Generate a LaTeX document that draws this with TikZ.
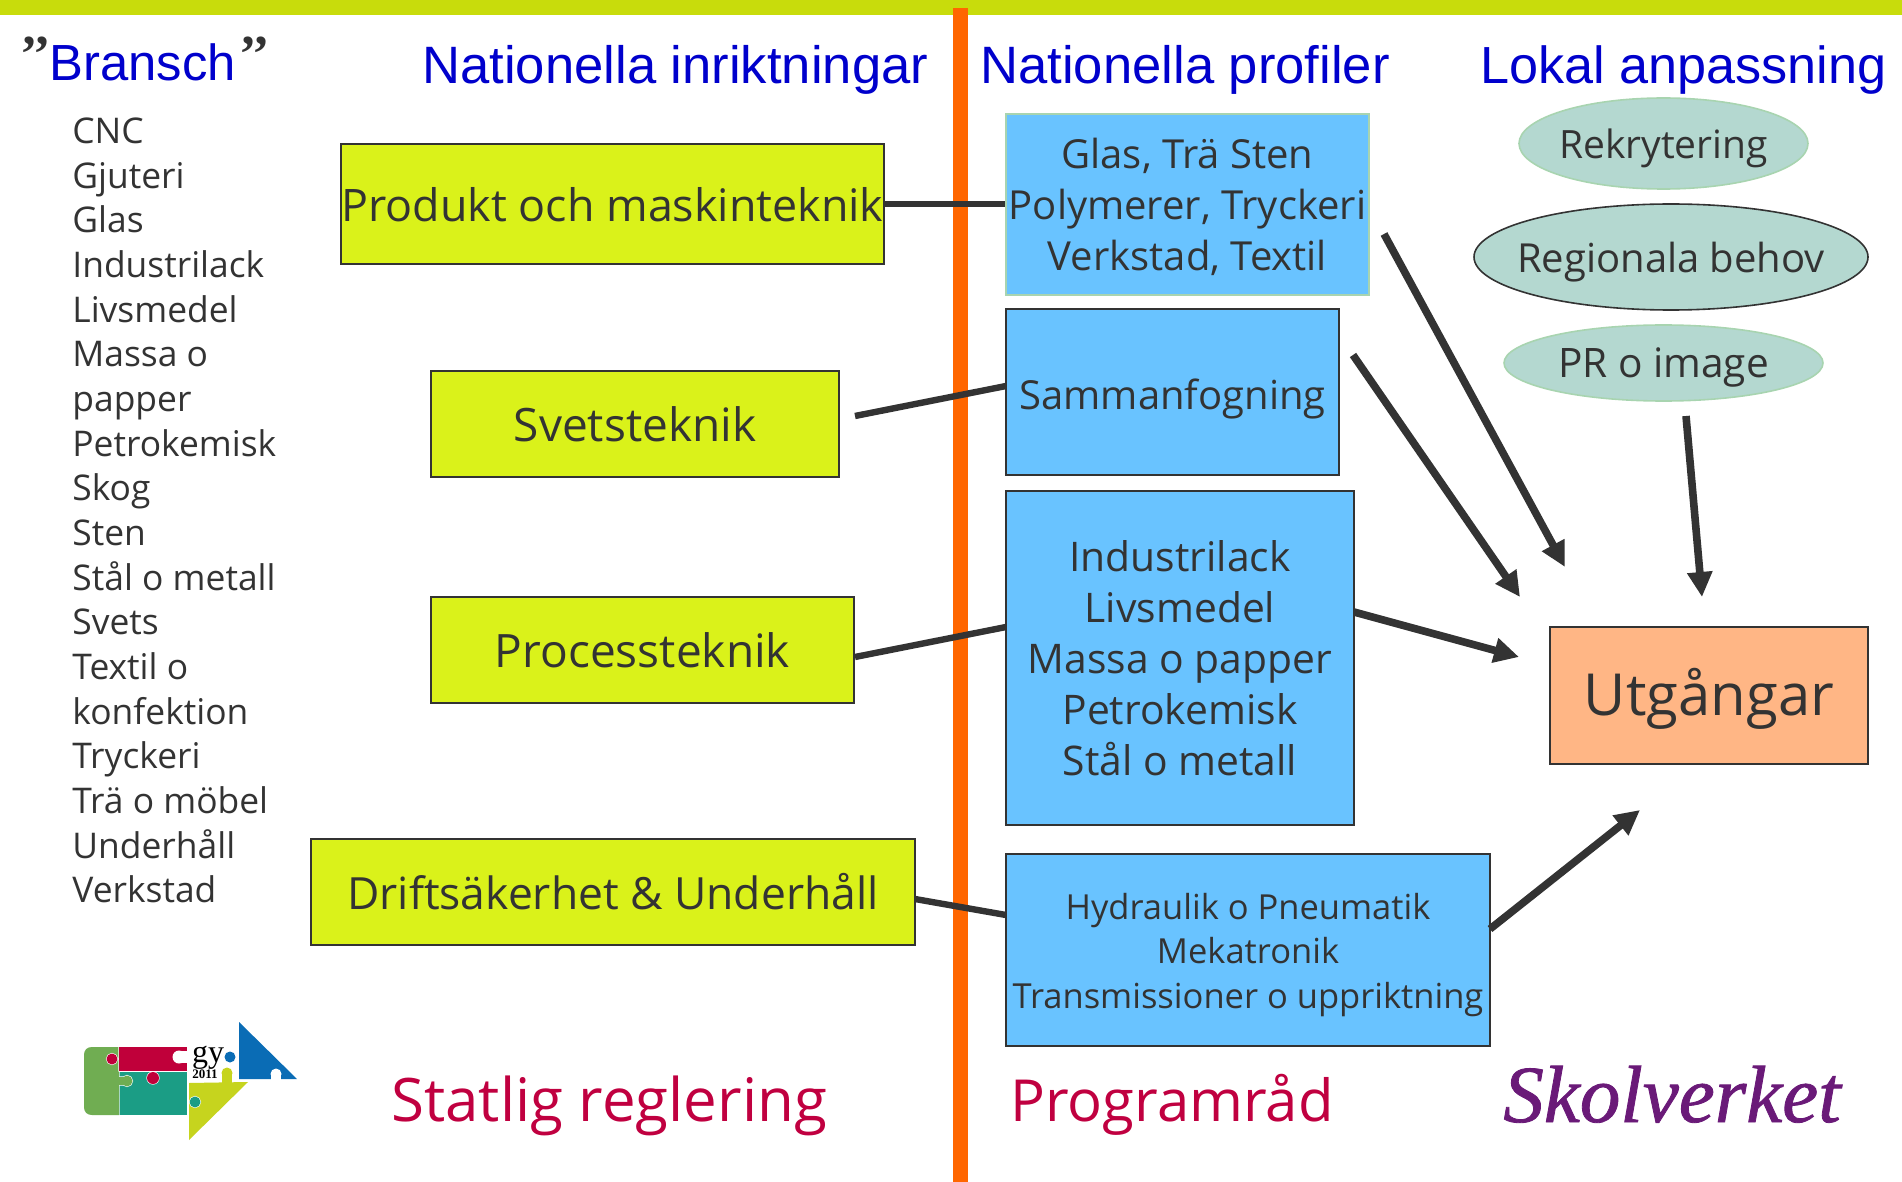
\documentclass[tikz,border=0pt]{standalone}
\usepackage{fontspec}
\setmainfont{Open Sans}
\newfontfamily\headfont{Liberation Sans}
\newfontfamily\logofont{Liberation Serif}
\newfontfamily\skfont[ItalicFeatures={FakeBold=1}]{Liberation Serif}
\usetikzlibrary{arrows.meta,shapes.geometric}
\definecolor{topbar}{HTML}{C8DC0C}
\definecolor{orangebar}{HTML}{FF6600}
\definecolor{limebox}{HTML}{DAF21A}
\definecolor{bluebox}{HTML}{69C3FF}
\definecolor{peach}{HTML}{FFB685}
\definecolor{teal}{HTML}{B4D8D0}
\definecolor{tealedge}{HTML}{A8D4B0}
\definecolor{ink}{HTML}{333333}
\definecolor{headblue}{HTML}{0000CC}
\definecolor{redtxt}{HTML}{C00040}
\definecolor{purple}{HTML}{6A1A78}
\definecolor{lgreen}{RGB}{112,173,82}
\definecolor{lteal}{RGB}{27,157,133}
\definecolor{lred}{RGB}{192,0,58}
\definecolor{llime}{RGB}{198,212,30}
\definecolor{lblue}{RGB}{10,108,181}
% one puzzle piece: a white outline under all three parts, then the parts filled one by one
\newcommand\piece[4]{%
  \path[draw=white,line width=0.6pt] #2 #3 #4;
  \path[fill=#1] #2; \path[fill=#1] #3; \path[fill=#1] #4;}
\tikzset{
  limeb/.style={draw=ink,line width=1pt,fill=limebox,inner sep=0pt},
  blueb/.style={draw=ink,line width=1pt,fill=bluebox,inner sep=0pt},
  ell/.style={ellipse,fill=teal,draw=tealedge,line width=0.8pt,inner sep=0pt},
  over/.style={inner sep=0pt,text=ink,align=center},
  limet/.style={over,font=\fontsize{22.4}{26}\selectfont},
  bluet/.style={over,font=\fontsize{20}{25.5}\selectfont},
  ellt/.style={over,font=\fontsize{20}{23}\selectfont},
  head/.style={anchor=base west,inner sep=0pt,text=headblue,font=\headfont\fontsize{26.3}{30}\selectfont},
  quot/.style={anchor=base west,inner sep=0pt,text=ink,font=\logofont\bfseries\fontsize{26}{30}\selectfont},
  conn/.style={draw=ink,line width=3.2pt},
  arr/.style={draw=ink,line width=3.8pt,-{Triangle[length=12.5pt,width=12pt]}},
  redt/.style={anchor=base west,inner sep=0pt,text=redtxt,font=\fontsize{30}{36}\selectfont},
}
\begin{document}
\begin{tikzpicture}[x=0.5pt,y=-0.5pt]
\useasboundingbox (0,0) rectangle (1902,1182);
\fill[topbar] (0,0) rectangle (1902,15);
\fill[orangebar] (953,8) rectangle (968,1182);

% headings
\node[quot] (q1) at (20,72) {’’};
\node[head,font=\headfont\fontsize{25.4}{30}\selectfont] (h0) at (49,80.5) {Bransch};
\node[quot] (q2) at (239,72) {’’};
\node[head] (h1) at (422,84) {Nationella inriktningar};
\node[head] (h2) at (980,84) {Nationella profiler};
\node[head,font=\headfont\fontsize{26.1}{30}\selectfont] (h3) at (1480,84) {Lokal anpassning};

% branch list
\node[anchor=north west,inner sep=0pt,align=left,text=ink,font=\fontsize{17.7}{22.33}\selectfont] (list) at (72,117.5) {CNC\\Gjuteri\\Glas\\Industrilack\\Livsmedel\\Massa o\\papper\\Petrokemisk\\Skog\\Sten\\Stål o metall\\Svets\\Textil o\\konfektion\\Tryckeri\\Trä o möbel\\Underhåll\\Verkstad};

% lime boxes
\node[limeb,minimum width=271.5pt,minimum height=60pt] (g1) at (612.5,204) {};
\node[limet] (g1t) at ([yshift=-0.6pt]g1.center) {Produkt och maskinteknik};
\node[limeb,minimum width=204pt,minimum height=53pt] (g2) at (635,424) {};
\node[limet,font=\fontsize{23}{26}\selectfont] (g2t) at (g2.center) {Svetsteknik};
\node[limeb,minimum width=211.5pt,minimum height=53pt] (g3) at (642.5,650) {};
\node[limet,font=\fontsize{23}{26}\selectfont] (g3t) at (g3.center) {Processteknik};
\node[limeb,minimum width=302pt,minimum height=53pt] (g4) at (613,892) {};
\node[limet,font=\fontsize{22.2}{26}\selectfont] (g4t) at (g4.center) {Driftsäkerhet \& Underhåll};

% blue boxes
\node[blueb,draw=tealedge,minimum width=181.5pt,minimum height=90.5pt] (p1) at (1187.5,204.5) {};
\node[bluet] (p1t) at ([yshift=-1.2pt]p1.center) {Glas, Trä Sten\\Polymerer, Tryckeri\\Verkstad, Textil};
\node[blueb,minimum width=166.5pt,minimum height=83pt] (p2) at (1172.5,392) {};
\node[bluet] (p2t) at ([yshift=-3.4pt]p2.center) {Sammanfogning};
\node[blueb,minimum width=174pt,minimum height=167pt] (p3) at (1180,658) {};
\node[bluet,font=\fontsize{20.4}{25.5}\selectfont] (p3t) at (p3.center) {Industrilack\\Livsmedel\\Massa o papper\\Petrokemisk\\Stål o metall};
\node[blueb,minimum width=242pt,minimum height=96pt] (p4) at (1248,950) {};
\node[bluet,font=\fontsize{17.25}{22.15}\selectfont] (p4t) at ([yshift=-2.4pt]p4.center) {Hydraulik o Pneumatik\\Mekatronik\\Transmissioner o uppriktning};

% ellipses
\node[ell,minimum width=144.5pt,minimum height=45.5pt] (e1) at (1663.5,143.5) {};
\node[ellt,font=\fontsize{19.5}{23}\selectfont] (e1t) at ([yshift=-2.4pt]e1.center) {Rekrytering};
\node[ell,draw=ink,minimum width=197pt,minimum height=53pt] (e2) at (1671,257) {};
\node[ellt] (e2t) at ([yshift=-2.4pt]e2.center) {Regionala behov};
\node[ell,minimum width=159.5pt,minimum height=38pt] (e3) at (1663.5,363) {};
\node[ellt,font=\fontsize{20.3}{23}\selectfont] (e3t) at ([yshift=-2.4pt]e3.center) {PR o image};

% outcome
\node[draw=ink,line width=1pt,fill=peach,inner sep=0pt,minimum width=159pt,minimum height=68.5pt] (u) at (1709,695.5) {};
\node[over,font=\fontsize{29}{36}\selectfont] (ut) at ([yshift=-1.8pt]u.center) {Utgångar};

% connectors
\coordinate (c2) at (855,416);
\coordinate (c2e) at (1006,386);
\coordinate (c3e) at (1006,627);
\coordinate (c4) at (915,899);
\coordinate (c4e) at (1006,915);
\draw[conn] (g1.east) -- (p1.west |- g1.east);
\draw[conn] (c2) -- (c2e);
\draw[conn] ([yshift=-3.5pt]g3.east) -- (c3e);
\draw[conn] (c4) -- (c4e);

% arrows
\coordinate (a1s) at (1384,234);
\coordinate (a1e) at (1565,567);
\coordinate (a2s) at (1353,355);
\coordinate (a2e) at (1520,597);
\coordinate (a3s) at (1354,612);
\coordinate (a3e) at (1519,657);
\coordinate (a4s) at (1490,929);
\coordinate (a4e) at (1640,810);
\coordinate (a5s) at (1686,416);
\coordinate (a5e) at (1702,597);
\draw[arr] (a1s) -- (a1e);
\draw[arr] (a2s) -- (a2e);
\draw[arr] (a3s) -- (a3e);
\draw[arr] (a4s) -- (a4e);
\draw[arr] (a5s) -- (a5e);

% footer
\node[redt] (r1) at (391,1121.5) {Statlig reglering};
\node[redt,font=\fontsize{29}{36}\selectfont] (r2) at (1010,1121.5) {Programråd};

% Skolverket wordmark
\node[anchor=base west,inner sep=0pt,text=purple,font=\skfont\itshape\fontsize{40.5}{44}\selectfont] (sk) at (1503,1122) {Skolverket};

% gy2011 logo
\piece{llime}{(189,1083) -- (248,1082) -- (189,1140) -- cycle}{(222,1074) rectangle (232,1084)}{(227,1073) circle[radius=5.5]}
\piece{lteal}{(119,1072) rectangle (187,1115)}{(195,1102) circle[radius=5.5]}{}
\piece{lgreen}{(119,1047) -- (92,1047) .. controls (87,1047) and (84,1050) .. (84,1055) -- (84,1107) .. controls (84,1112) and (87,1115) .. (92,1115) -- (119,1115) -- cycle}{(127,1081) circle[radius=5.5]}{(116,1077) rectangle (124,1085)}
\piece{lred}{(119,1047) rectangle (187,1071)}{(112,1059) circle[radius=5.5]}{(153,1078) circle[radius=6]}
\fill[white] (179,1057) circle[radius=6.5];
\fill[white] (181,1051) rectangle (188,1063);
\piece{lblue}{(239,1022) -- (297,1079) -- (239,1079) -- cycle}{(230,1057) circle[radius=5.5]}{}
\fill[white] (276,1074) circle[radius=5.5];
\fill[white] (271,1074) rectangle (281,1080);
\node[anchor=base,inner sep=0pt,text=black,font=\logofont\fontsize{16}{16}\selectfont] (gy) at (208,1062) {gy};
\node[anchor=base,inner sep=0pt,text=black,font=\logofont\bfseries\fontsize{6.5}{7}\selectfont] (yr) at (205,1078) {2011};
\end{tikzpicture}
\end{document}
